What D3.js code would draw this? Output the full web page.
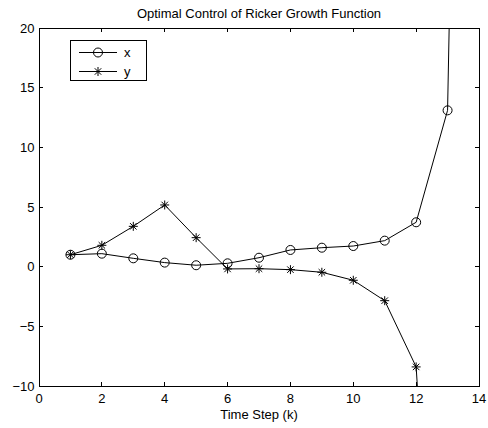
<!DOCTYPE html>
<html><head><meta charset="utf-8">
<script src="https://cdn.jsdelivr.net/npm/d3@7"></script>
<style>body{margin:0;background:#fff}svg{display:block}text{font-family:"Liberation Sans",Arial,Helvetica,sans-serif;fill:#000}</style>
</head><body>
<svg id="c" width="488" height="428"></svg>
<script>
const steps = [1,2,3,4,5,6,7,8,9,10,11,12,13,14];
const xSeries = [1.0,1.09,0.70,0.34,0.12,0.28,0.75,1.40,1.59,1.73,2.18,3.72,13.1,150];
const ySeries = [1.0,1.79,3.38,5.17,2.43,-0.19,-0.17,-0.25,-0.47,-1.14,-2.85,-8.4,-50,-400];
const xTicks = [0,2,4,6,8,10,12,14];
const yTicks = [-10,-5,0,5,10,15,20];
const title = "Optimal Control of Ricker Growth Function";
const xLabel = "Time Step (k)";
const legendNames = ["x","y"];

const L=39,R=479,T=28,B=386;
const FS=13;
const svg=d3.select("#c");
const x=d3.scaleLinear().domain([0,14]).range([L,R]);
const y=d3.scaleLinear().domain([-10,20]).range([B,T]);

svg.append("defs").append("clipPath").attr("id","clip").append("rect")
  .attr("x",L).attr("y",T).attr("width",R-L).attr("height",B-T);

const fmt=d=>d<0?"\u2212"+Math.abs(d):String(d);
const g=svg.append("g").attr("stroke","#000").attr("stroke-width",1).attr("shape-rendering","crispEdges");
xTicks.forEach(t=>{
  g.append("line").attr("x1",x(t)).attr("x2",x(t)).attr("y1",B).attr("y2",B-4);
  g.append("line").attr("x1",x(t)).attr("x2",x(t)).attr("y1",T).attr("y2",T+4);
  svg.append("text").attr("x",x(t)).attr("y",403).attr("text-anchor","middle").attr("font-size",FS).text(fmt(t));
});
yTicks.forEach(t=>{
  g.append("line").attr("x1",L).attr("x2",L+4).attr("y1",y(t)).attr("y2",y(t));
  g.append("line").attr("x1",R).attr("x2",R-4).attr("y1",y(t)).attr("y2",y(t));
  svg.append("text").attr("x",34.5).attr("y",y(t)+4.5).attr("text-anchor","end").attr("font-size",FS).text(fmt(t));
});
g.append("rect").attr("x",L).attr("y",T).attr("width",R-L).attr("height",B-T).attr("fill","none");

svg.append("text").attr("x",(L+R)/2).attr("y",18).attr("text-anchor","middle").attr("font-size",FS).text(title);
svg.append("text").attr("x",(L+R)/2).attr("y",419).attr("text-anchor","middle").attr("font-size",FS).text(xLabel);

const plot=svg.append("g").attr("clip-path","url(#clip)");
const line=d3.line().x((d,i)=>x(steps[i])).y(d=>y(d));
function star(sel,cx,cy,r){
  const s=sel.append("g").attr("stroke","#000").attr("stroke-width",1);
  s.append("line").attr("x1",cx-r).attr("x2",cx+r).attr("y1",cy).attr("y2",cy);
  s.append("line").attr("x1",cx).attr("x2",cx).attr("y1",cy-r).attr("y2",cy+r);
  const q=r*0.72;
  s.append("line").attr("x1",cx-q).attr("x2",cx+q).attr("y1",cy-q).attr("y2",cy+q);
  s.append("line").attr("x1",cx-q).attr("x2",cx+q).attr("y1",cy+q).attr("y2",cy-q);
}
plot.append("path").attr("d",line(xSeries)).attr("fill","none").attr("stroke","#000").attr("stroke-width",1);
plot.append("path").attr("d",line(ySeries)).attr("fill","none").attr("stroke","#000").attr("stroke-width",1);
xSeries.forEach((v,i)=>{ if(v>=-10&&v<=20) plot.append("circle").attr("cx",x(steps[i])).attr("cy",y(v)).attr("r",4.5).attr("fill","none").attr("stroke","#000"); });
ySeries.forEach((v,i)=>{ if(v>=-10&&v<=20) star(plot,x(steps[i]),y(v),4.5); });

const lg=svg.append("g");
lg.append("rect").attr("x",70.5).attr("y",40.5).attr("width",76).attr("height",40).attr("fill","#fff").attr("stroke","#000").attr("shape-rendering","crispEdges");
[52.5,71.5].forEach((yy,i)=>{
  lg.append("line").attr("x1",79).attr("x2",117).attr("y1",yy).attr("y2",yy).attr("stroke","#000");
  if(i===0) lg.append("circle").attr("cx",98).attr("cy",yy).attr("r",4.5).attr("fill","none").attr("stroke","#000");
  else star(lg,98,yy,4.5);
  lg.append("text").attr("x",124).attr("y",yy+4).attr("font-size",FS).text(legendNames[i]);
});
</script>
</body></html>
